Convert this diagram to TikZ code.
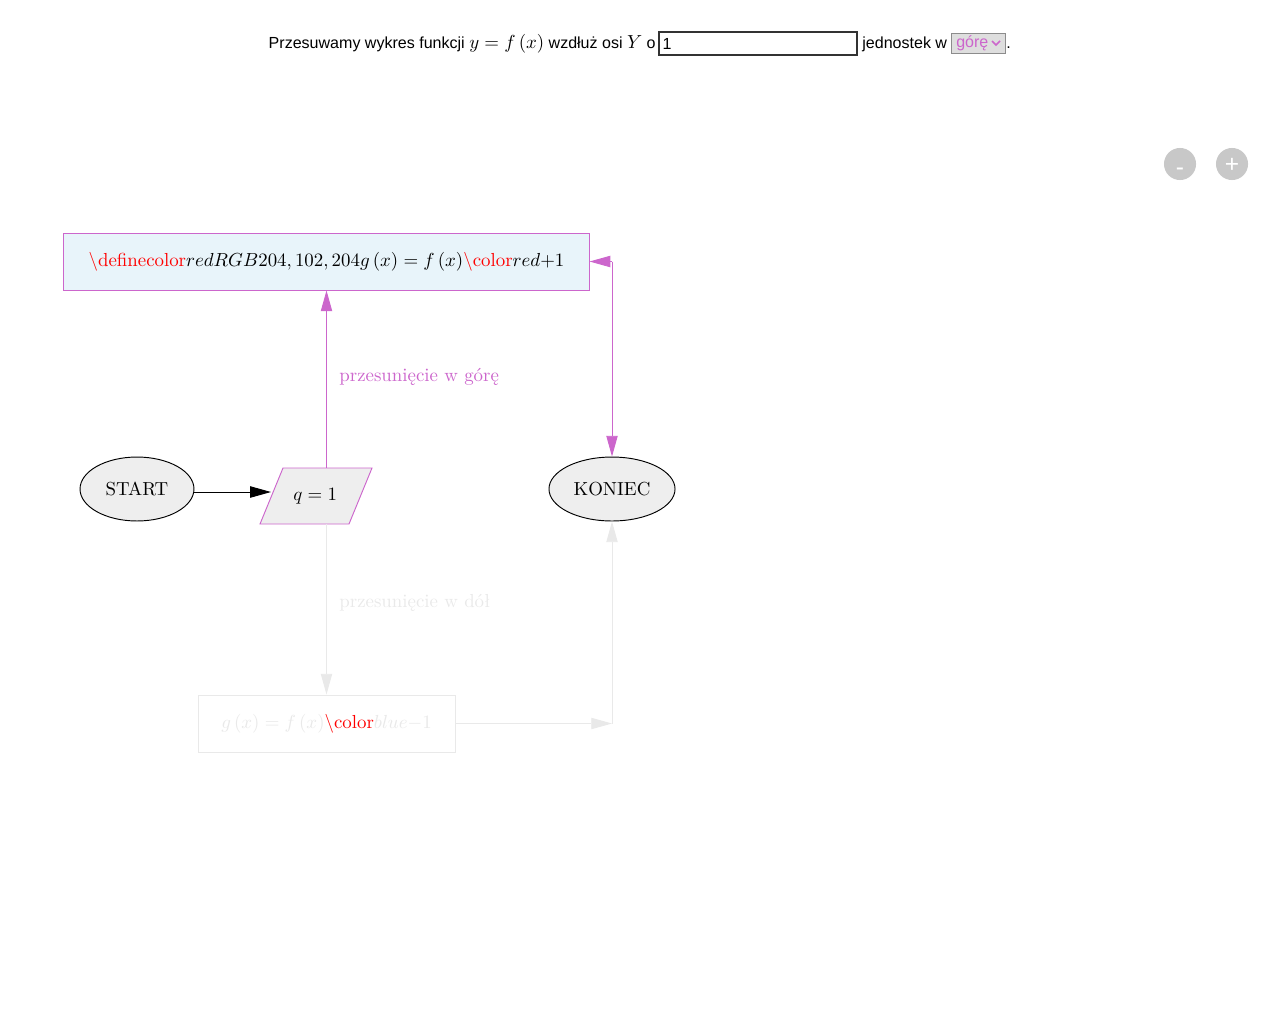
\documentclass[tikz,border=0pt]{standalone}
\usepackage{fontspec}
\newfontfamily\headfont{Liberation Sans}
\usetikzlibrary{arrows.meta,calc,shapes.geometric}
\definecolor{orchid}{RGB}{204,102,204}
\definecolor{boxblue}{RGB}{232,244,250}
\definecolor{nodegray}{RGB}{238,238,238}
\definecolor{ghostgray}{RGB}{233,233,233}
\definecolor{btngray}{RGB}{200,200,200}
\begin{document}
\begin{tikzpicture}[x=0.53pt,y=-0.53pt,
  tip/.style={-{Triangle[length=11pt,width=6pt]}},
  term/.style={ellipse,draw=black,fill=nodegray,line width=0.5pt,inner sep=0pt},
  stepbox/.style={rectangle,line width=0.5pt,inner sep=0pt,minimum height=30.2pt},
  btn/.style={circle,fill=btngray,minimum size=17pt,inner sep=0pt,text height=9.4pt,text depth=0pt,text=white,font=\headfont\fontsize{13}{13}\selectfont},
  head/.style={inner sep=0pt,font=\headfont\fontsize{8.5}{10}\selectfont}]
\useasboundingbox (0,0) rectangle (1280,1020);
% the header
\node[head,anchor=base east] (lead) at (656,48) {Przesuwamy wykres funkcji {\fontsize{10}{12}\selectfont$y=f\left(x\right)$} wzdłuż osi {\fontsize{10}{12}\selectfont$Y$} o};
\node[head,draw=black!80,line width=1pt,minimum width=105pt,minimum height=12.2pt,text width=101pt,align=left] (shift) at (758,43.5) {1};
\node[head,anchor=base west] (unit) at (862,48) {jednostek w};
\node[head,draw=black!45,fill=black!13,line width=0.5pt,minimum width=28.6pt,minimum height=10.6pt,text width=26pt,align=left] (dir) at (978,43) {\hspace*{1.5pt}\textcolor{orchid}{górę}};
\draw[orchid,line width=0.9pt] (992,41) -- (996,45) -- (1000,41);
\node[head,anchor=base west] (dot) at (1006,48) {.};
% zoom buttons
\node[btn] (minus) at (1180,164) {\raisebox{-1.2pt}{-}};
\node[btn] (plus) at (1232,164) {+};
% the nodes
\node[stepbox,draw=orchid,fill=boxblue,minimum width=278.3pt] (up) at (326.5,261.5) {{\color{red}$\backslash$definecolor}$redRGB204,102,204g\left(x\right)=f\left(x\right)${\color{red}$\backslash$color}$red{+}1$};
\node[term,minimum width=60.4pt,minimum height=33.9pt] (start) at (137,489) {START};
\draw[orchid,fill=nodegray,line width=0.5pt] (260,524) -- (283,468) -- (372,468) -- (349,524) -- cycle;
\node[inner sep=0pt,minimum width=47pt,minimum height=29.7pt] (q) at (326.5,496) {\hspace*{-12pt}$q=1$};
\node[term,minimum width=66.8pt,minimum height=33.9pt] (koniec) at (612,489) {KONIEC};
\node[stepbox,draw=ghostgray,fill=white,minimum width=136.2pt,text=ghostgray] (down) at (326.5,723.5) {$g\left(x\right)=f\left(x\right)${\color{red}$\backslash$color}$blue{-}1$};
\coordinate (cup) at (koniec.north |- up.east);
\coordinate (cdown) at (koniec.south |- down.east);
% the connectors
\draw[tip,line width=0.5pt] (start.east |- 0,492) -- (271,492);
\draw[tip,orchid,line width=0.5pt] (q.north) -- (up.south);
\draw[tip,orchid,line width=0.5pt] (cup) -- (up.east);
\draw[tip,orchid,line width=0.5pt] (cup) -- (koniec.north);
\draw[tip,ghostgray,line width=0.5pt] (q.south) -- (down.north);
\draw[tip,ghostgray,line width=0.5pt] (down.east) -- (cdown);
\draw[tip,ghostgray,line width=0.5pt] (cdown) -- (koniec.south);
\node[anchor=west,text=orchid,inner sep=0pt] (uplabel) at (339,377) {przesunięcie w górę};
\node[anchor=west,text=ghostgray,inner sep=0pt] (downlabel) at (339,603) {przesunięcie w dół};
\end{tikzpicture}
\end{document}
